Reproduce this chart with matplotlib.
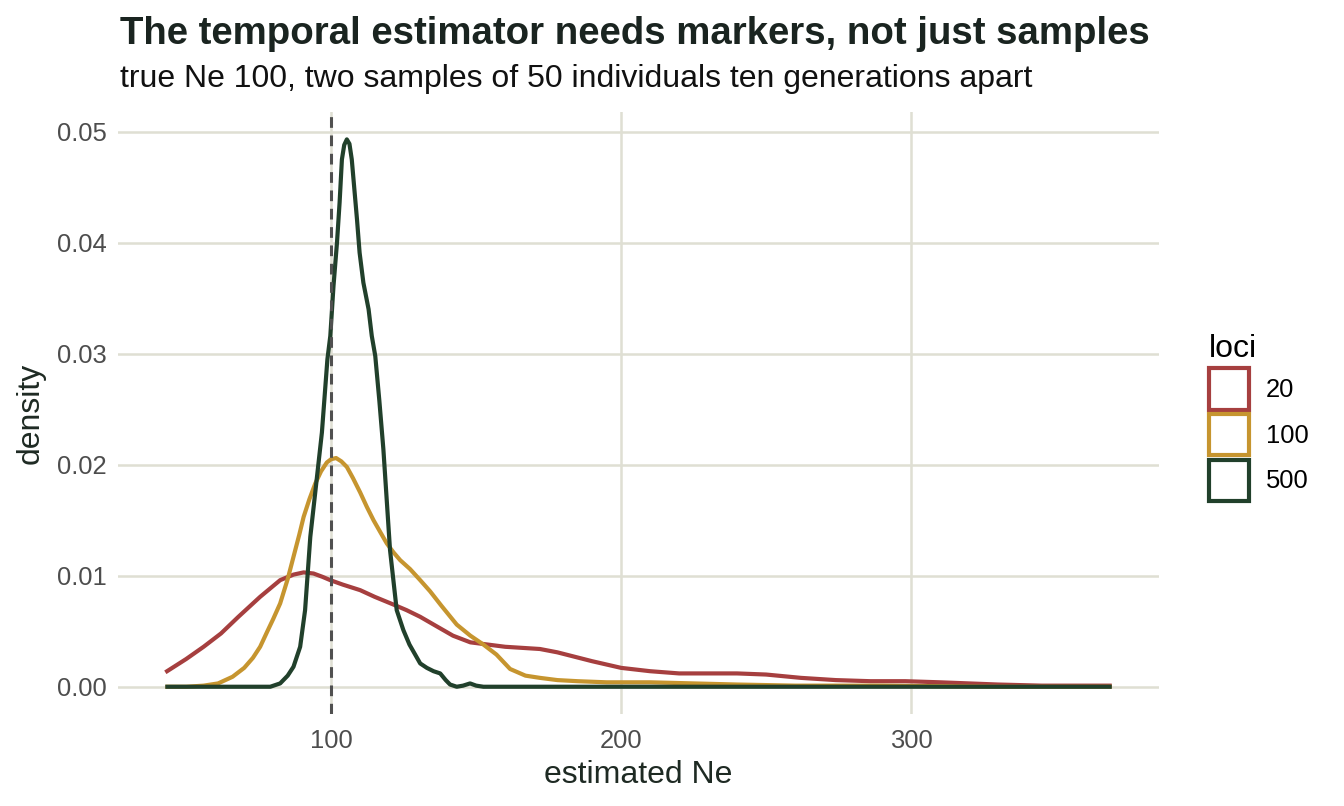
import matplotlib.pyplot as plt
from matplotlib.patches import Patch

plt.rcParams.update({
	"font.family": ["Liberation Sans", "DejaVu Sans"],
	"axes.grid": True,
	"axes.axisbelow": True,
	})

# density curves, one per number of loci
x_20 = [42.8, 50, 56, 62, 68, 75.5, 82.4, 87, 90.5, 93.9, 97, 99.7, 104, 110,
	115, 121.5, 126, 130.7, 136, 142, 148, 154, 160, 166, 172, 178, 184, 190,
	200, 210, 220, 230, 240, 250, 262, 274, 286, 298, 310, 320, 330, 345, 369.2]
y_20 = [0.0013, 0.0025, 0.0036, 0.0048, 0.0063, 0.0081, 0.0096, 0.0101, 0.0103,
	0.0102, 0.0099, 0.0096, 0.0092, 0.0087, 0.0081, 0.0074, 0.0069, 0.0063,
	0.0055, 0.0046, 0.0040, 0.0038, 0.0036, 0.0035, 0.0034, 0.0031, 0.0027,
	0.0023, 0.0017, 0.0014, 0.0012, 0.0012, 0.0012, 0.0011, 0.0008, 0.0006,
	0.0005, 0.0005, 0.0004, 0.0003, 0.0002, 0.0001, 0.0001]

x_100 = [42.8, 50, 56, 61, 66, 70, 73, 75.5, 78, 80, 82.4, 85, 87, 89, 90.5,
	92.5, 94.5, 96.5, 98.5, 100, 101.7, 103.5, 105.4, 107.5, 110, 112.3, 114.6,
	117, 119.2, 121.5, 123.8, 127.2, 130.7, 134.1, 138, 143.3, 148, 152.5, 157,
	161.7, 167, 172, 178, 185, 195, 210, 225, 240, 260, 290, 330, 369.2]
y_100 = [0.0, 0.0, 0.0001, 0.0003, 0.0009, 0.0017, 0.0026, 0.0036, 0.0050,
	0.0061, 0.0075, 0.0097, 0.0117, 0.0137, 0.0153, 0.0169, 0.0183, 0.0194,
	0.0202, 0.0205, 0.0206, 0.0203, 0.0198, 0.0188, 0.0175, 0.0162, 0.0150,
	0.0139, 0.0129, 0.0121, 0.0114, 0.0106, 0.0096, 0.0086, 0.0073, 0.0056,
	0.0046, 0.0038, 0.0029, 0.0016, 0.0010, 0.0008, 0.0006, 0.0005, 0.0004,
	0.0004, 0.0003, 0.0002, 0.0001, 0.0001, 0.0, 0.0]

x_500 = [42.8, 60, 75, 79, 82.4, 85, 87, 89.3, 91, 92.8, 95.1, 96.8, 98.7, 99.7,
	100.8, 102, 102.9, 103.7, 104.5, 105.4, 106.3, 107.1, 107.9, 108.9, 109.8,
	111.1, 112.9, 114, 115.2, 116.6, 118, 120.3, 122.6, 124.9, 127, 130.7, 133,
	135.3, 137.6, 139.5, 141, 143.3, 145.5, 147.9, 150, 152.5, 160, 200, 250,
	300, 369.2]
y_500 = [0.0, 0.0, 0.0, 0.0, 0.0003, 0.0010, 0.0018, 0.0036, 0.0069, 0.0135,
	0.0189, 0.0229, 0.0295, 0.0316, 0.0361, 0.0400, 0.0436, 0.0475, 0.0488,
	0.0493, 0.0489, 0.0475, 0.0451, 0.0421, 0.0391, 0.0364, 0.0340, 0.0316,
	0.0298, 0.0258, 0.0214, 0.0123, 0.0069, 0.0051, 0.0038, 0.0021, 0.0017,
	0.0014, 0.0012, 0.0006, 0.0002, 0.0, 0.0001, 0.0003, 0.0001, 0.0, 0.0,
	0.0, 0.0, 0.0, 0.0]

true_ne = 100
loci_labels = ["20", "100", "500"]
colors = ["#A63F3F", "#C6952F", "#21402B"]

fig = plt.figure(figsize=(13.44, 8.06), dpi=100)
ax = fig.add_axes([0.0878, 0.114, 0.7746, 0.747])

series = [(x_20, y_20), (x_100, y_100), (x_500, y_500)]
for (xs, ys), c in zip(series, colors):
	ax.plot(xs, ys, c=c, lw=3.0, solid_capstyle="butt", solid_joinstyle="round")
ax.axvline(true_ne, c="#505050", lw=2.2, ls=(0, (3.5, 2.5)))

ax.margins(0.05)
ax.set_xticks([100, 200, 300])
ax.set_yticks([0.0, 0.01, 0.02, 0.03, 0.04, 0.05])
ax.set_yticklabels(["0.00", "0.01", "0.02", "0.03", "0.04", "0.05"])
ax.grid(color="#DFDFD3", lw=1.8)
for s in ax.spines.values():
	s.set_visible(False)
ax.tick_params(length=0, labelsize=18.4, labelcolor="#4D4D4D", pad=8)
ax.tick_params(axis="x", pad=11)
ax.set_xlabel("estimated Ne", fontsize=23, color="#1E2A23", labelpad=5)
ax.set_ylabel("density", fontsize=23, color="#1E2A23", labelpad=8)

fig.text(0.0893, 0.958, "The temporal estimator needs markers, not just samples",
	fontsize=27.6, fontweight="bold", color="#1A2420", va="center")
fig.text(0.0893, 0.902, "true Ne 100, two samples of 50 individuals ten generations apart",
	fontsize=23, color="#111111", va="center")

handles = [Patch(facecolor="white", edgecolor=c, lw=3.0) for c in colors]
leg = fig.legend(handles, loci_labels, title="loci", loc="upper left",
	bbox_to_anchor=(1196 / 1344, 1 - 321 / 806), frameon=False, fontsize=18.4,
	title_fontsize=23, handlelength=1.56, handleheight=2.1, labelspacing=0.18,
	handletextpad=0.66, borderpad=0, alignment="left")

fig.savefig("out.png", dpi=100)
